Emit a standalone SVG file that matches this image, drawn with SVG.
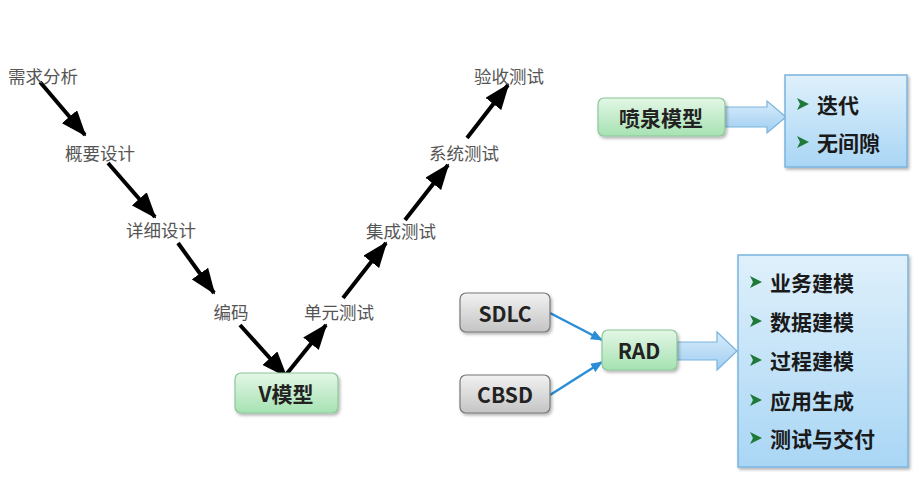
<svg xmlns="http://www.w3.org/2000/svg" width="914" height="497" viewBox="0 0 914 497">
<style>
.lbl{font-family:"Noto Sans CJK SC","Liberation Serif",serif;font-size:17.5px;fill:#555;text-anchor:middle;dominant-baseline:central}
.bx{font-family:"Noto Sans CJK SC","Liberation Sans",sans-serif;font-weight:bold;font-size:21px;fill:#222;text-anchor:middle;dominant-baseline:central}
.it{font-family:"Noto Sans CJK SC","Liberation Sans",sans-serif;font-weight:bold;font-size:21px;fill:#1a1a1a;dominant-baseline:central}
.blk{stroke:#000;stroke-width:4;fill:none;marker-end:url(#ah)}
.bl{stroke:#2b8fd8;stroke-width:2.5;fill:none;marker-end:url(#bh)}
.green{fill:url(#gg);stroke:#8cc79a;stroke-width:1.2;filter:url(#sh)}
.grey{fill:url(#gr);stroke:#777;stroke-width:1.2;filter:url(#sh)}
.panel{fill:url(#bp);stroke:#7ab4de;stroke-width:1.5;filter:url(#sh)}
.barr{fill:url(#ba);stroke:#7ab4de;stroke-width:1.2}
.bul{fill:#1f7a3a}
</style>
<defs>
<marker id="ah" markerUnits="userSpaceOnUse" markerWidth="26" markerHeight="20" refX="24" refY="10" orient="auto"><path d="M0,0 L26,10 L0,20 Z" fill="#000"/></marker>
<marker id="bh" markerUnits="userSpaceOnUse" markerWidth="12" markerHeight="10" refX="11" refY="5" orient="auto"><path d="M0,0 L12,5 L0,10 Z" fill="#2b8fd8"/></marker>
<linearGradient id="gg" x1="0" y1="0" x2="0" y2="1"><stop offset="0" stop-color="#e3f7e6"/><stop offset="1" stop-color="#a6e2b2"/></linearGradient>
<linearGradient id="gr" x1="0" y1="0" x2="0" y2="1"><stop offset="0" stop-color="#f2f2f2"/><stop offset="1" stop-color="#c4c4c4"/></linearGradient>
<linearGradient id="bp" x1="0" y1="0" x2="0" y2="1"><stop offset="0" stop-color="#dff0fb"/><stop offset="1" stop-color="#a9d6f5"/></linearGradient>
<linearGradient id="ba" x1="0" y1="0" x2="0" y2="1"><stop offset="0" stop-color="#d8ecfa"/><stop offset="1" stop-color="#9fcef2"/></linearGradient>
<filter id="sh" x="-10%" y="-10%" width="130%" height="140%"><feDropShadow dx="1.5" dy="2" stdDeviation="1.5" flood-color="#000" flood-opacity="0.3"/></filter>
</defs>
<rect width="914" height="497" fill="#fff"/>
<g id="connectors">
<line class="blk" x1="40" y1="82" x2="85" y2="135"/>
<line class="blk" x1="108" y1="163" x2="155" y2="217"/>
<line class="blk" x1="178" y1="243" x2="214" y2="293"/>
<line class="blk" x1="240" y1="325" x2="286" y2="376"/>
<line class="blk" x1="285" y1="376" x2="326" y2="325"/>
<line class="blk" x1="343" y1="298" x2="386" y2="243"/>
<line class="blk" x1="405" y1="220" x2="448" y2="165"/>
<line class="blk" x1="467" y1="138" x2="508" y2="85"/>
<line class="bl" x1="550" y1="313" x2="602" y2="340"/>
<line class="bl" x1="550" y1="395" x2="602" y2="362"/>
<path class="barr" d="M725,107 L767,107 L767,101 L786,117 L767,133 L767,127 L725,127 Z"/>
<path class="barr" d="M677,342 L717,342 L717,332 L737,351 L717,370 L717,360 L677,360 Z"/>
</g>
<g id="n1"><text class="lbl" x="43" y="75">需求分析</text></g>
<g id="n2"><text class="lbl" x="100" y="152">概要设计</text></g>
<g id="n3"><text class="lbl" x="161" y="229">详细设计</text></g>
<g id="n4"><text class="lbl" x="231" y="311">编码</text></g>
<g id="n5"><text class="lbl" x="339" y="311">单元测试</text></g>
<g id="n6"><text class="lbl" x="401" y="230">集成测试</text></g>
<g id="n7"><text class="lbl" x="464" y="152">系统测试</text></g>
<g id="n8"><text class="lbl" x="509" y="75">验收测试</text></g>
<g id="vmodel"><rect class="green" x="235" y="373" width="103" height="40" rx="6"/><text class="bx" x="286" y="393">V模型</text></g>
<g id="fountain"><rect class="green" x="598" y="98" width="127" height="38" rx="6"/><text class="bx" x="661" y="117">喷泉模型</text></g>
<g id="fpanel"><rect class="panel" x="785" y="75" width="122" height="92"/>
<path class="bul" d="M797,98 L809,104 L797,110 L800,104 Z"/><text class="it" x="817" y="104">迭代</text>
<path class="bul" d="M797,136 L809,142 L797,148 L800,142 Z"/><text class="it" x="817" y="142">无间隙</text></g>
<g id="sdlc"><rect class="grey" x="460" y="293" width="90" height="39" rx="6"/><text class="bx" x="505" y="313">SDLC</text></g>
<g id="cbsd"><rect class="grey" x="460" y="375" width="90" height="38" rx="6"/><text class="bx" x="505" y="394">CBSD</text></g>
<g id="rad"><rect class="green" x="602" y="330" width="75" height="40" rx="6"/><text class="bx" x="639" y="350">RAD</text></g>
<g id="rpanel"><rect class="panel" x="738" y="255" width="170" height="212"/>
<path class="bul" d="M750,276 L762,282 L750,288 L753,282 Z"/><text class="it" x="770" y="282">业务建模</text>
<path class="bul" d="M750,315 L762,321 L750,327 L753,321 Z"/><text class="it" x="770" y="321">数据建模</text>
<path class="bul" d="M750,354 L762,360 L750,366 L753,360 Z"/><text class="it" x="770" y="360">过程建模</text>
<path class="bul" d="M750,394 L762,400 L750,406 L753,400 Z"/><text class="it" x="770" y="400">应用生成</text>
<path class="bul" d="M750,432 L762,438 L750,444 L753,438 Z"/><text class="it" x="770" y="438">测试与交付</text></g>
</svg>
